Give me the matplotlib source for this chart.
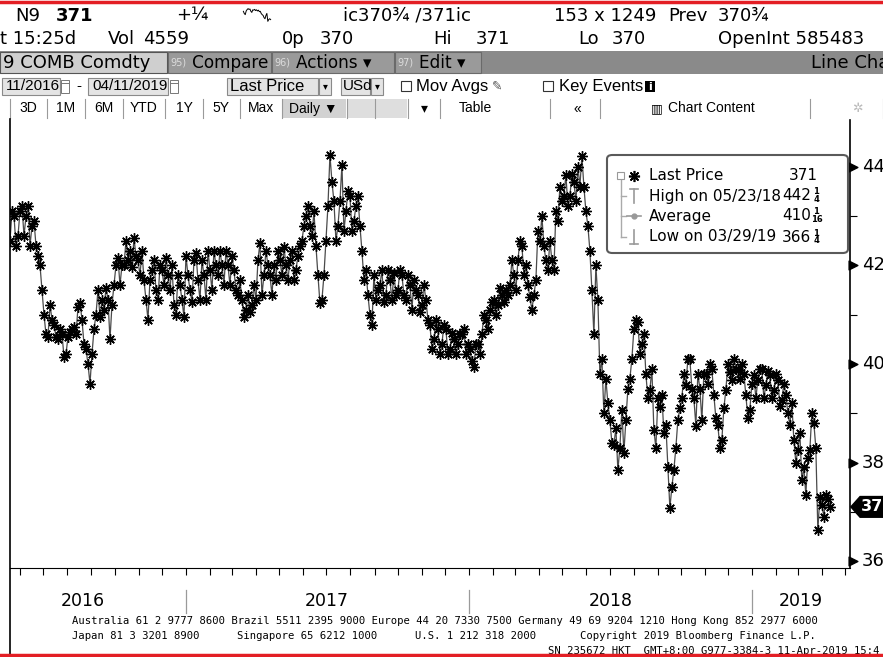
import matplotlib
matplotlib.use('Agg')
import matplotlib.pyplot as plt
from matplotlib.patches import Rectangle, FancyBboxPatch, Polygon
from matplotlib.lines import Line2D
import numpy as np
import pandas as pd

# ---------------- data ----------------
start_date = '2016-05-19'
end_date = '2019-04-11'
# readings on a regular grid of the chart ...
prices_a = [
    425, 430, 426, 432, 430, 424, 429, 422, 415, 406,
    412, 408, 405, 406, 402, 406.5, 407.5, 411.5, 409, 403,
    396, 407, 415, 413, 415.5, 405, 416, 421.5, 420, 425,
    423, 425.5, 421, 423, 413, 417, 421, 413, 419, 421.5,
    415, 412, 418, 413, 422, 415, 421, 417, 421, 413,
    419, 423, 418, 420, 423, 416, 419, 414, 413, 411,
    410.5, 416, 421, 414, 423, 418, 420, 423, 418, 420,
    421, 417, 422, 425, 430, 428, 431, 418, 413, 425,
    442.4, 433, 428, 440.4, 431, 434, 429, 434, 423, 419,
    410, 418, 415, 419, 414, 417, 418.5, 415, 418, 413,
    416, 417, 414, 412, 413, 408, 405, 407, 404, 407,
    403, 405, 404, 406, 402, 403, 399.4, 404, 406, 409,
    411, 413, 412, 414, 415, 416, 418, 421, 424, 420,
    413.5, 414, 427, 430, 421, 425, 419, 429, 433, 438.4,
    434, 437, 440, 442.25, 431, 423, 406, 413, 401, 397,
    388.6, 383.6, 378.5, 390.7, 388.6, 397, 407, 408.5, 404, 398,
    394.7, 386.6, 393, 393.7, 387.6, 370.75, 378.5, 388.6, 393, 395.7,
    401, 393, 398, 388.6, 398, 400, 393.7, 387.6, 384.6, 394.7,
    398.4, 401, 398.8, 400, 393.7, 390.7, 397.8, 396.8, 399, 395.7,
    397.8, 394.7, 396.8, 392.7, 393.7, 387.6, 384.6, 382.5, 376.4, 373.4,
    382.5, 388, 366.25, 371.4, 373.4, 371,
]
# ... and the readings half-way between them
prices_b = [
    431, 424, 431, 426, 432, 428, 424, 420,
    410, 405.5, 409, 405.5, 407,
    401.5, 405.5, 407, 406, 412.4, 404, 400,
    402, 410, 409.5, 411, 413, 412, 420,
    416, 420, 421, 419.7, 422, 418, 417,
    409, 419, 415, 420, 416, 418, 420, 410, 416, 409.5, 418,
    412.5, 422.5, 413, 418, 423,
    415, 420, 423, 416, 420, 422,
    415, 417, 409.5, 414, 412,
    413, 424.6, 418, 420, 414,
    417, 421, 423.8, 417, 423, 419, 424,
    428, 432, 426, 424, 412.4, 418, 432,
    437, 425, 433, 427, 435, 427, 432, 428,
    417, 414, 408, 413, 416, 412.5, 419, 413,
    414, 419, 414, 418, 411, 415, 410.5, 416, 409,
    403, 409, 402, 408, 402, 406.3, 402, 406, 407, 404, 400.5, 404,
    402, 410, 407, 412.5, 410, 415.5, 412.5, 414, 421, 415, 425, 418, 416, 411,
    417, 425, 424, 419, 421, 431, 436, 434, 432,
    438.5, 433, 436, 436, 428, 415,
    420, 398, 390, 392, 384, 387, 383,
    382, 395, 401, 409, 402, 406, 393, 399,
    383, 391.3, 386, 379, 375,
    383, 391, 398, 401, 395, 387.5, 395, 398,
    396, 399, 389, 383, 391, 400, 396.8,
    399, 397, 398, 389, 396, 393, 399,
    393, 398.5, 393, 398, 391.5, 396, 390, 392,
    380, 386, 379, 381, 390, 383, 373, 369, 372.5,
]
year_labels = ['2016', '2017', '2018', '2019']
year_label_dates = ['2016-08-21', '2017-07-02', '2018-07-02', '2019-03-05']
year_starts = ['2017-01-01', '2018-01-01', '2019-01-01']
y_major = [360, 380, 400, 420, 440]
y_minor = [370, 390, 410, 430]
last_price = 371

legend_labels = ['Last Price', 'High on 05/23/18', 'Average', 'Low on 03/29/19']
legend_values = ['371', '442', '410', '366']
legend_fracs = [('', ''), ('1', '4'), ('1', '16'), ('1', '4')]

# interleave the two sets of readings in time order
prices = []
for a, b in zip(prices_a, prices_b):
    prices += [a, b]
prices += prices_a[len(prices_b):]

# ---------------- figure ----------------
W, H = 883, 657
fig = plt.figure(figsize=(W / 100, H / 100), dpi=100)
fig.patch.set_facecolor('white')

HEAD = ['DejaVu Sans']
ARIAL = ['Liberation Sans', 'DejaVu Sans']
MONO = ['DejaVu Sans Mono']
LEG = ['DejaVu Sans']


def fx(x):
    return x / W


def fy(y):
    return 1 - y / H


def T(x, y, s, size=12, family=HEAD, ha='left', va='center', **kw):
    fig.text(fx(x), fy(y), s, fontsize=size, family=family, ha=ha, va=va, **kw)


def R(x0, y0, x1, y1, fc, ec='none', lw=0.8, z=1):
    fig.patches.append(Rectangle((fx(x0), fy(y1)), fx(x1 - x0), (y1 - y0) / H,
                                 transform=fig.transFigure, facecolor=fc,
                                 edgecolor=ec, linewidth=lw, zorder=z))


def L(x0, y0, x1, y1, c='black', lw=1, z=2):
    fig.lines.append(Line2D([fx(x0), fx(x1)], [fy(y0), fy(y1)], transform=fig.transFigure,
                            color=c, lw=lw, zorder=z))


# red frame lines
L(0, 2, W, 2, c='#e31e24', lw=2.5, z=10)
L(0, 655, W, 655, c='#e31e24', lw=2.5, z=10)

# header row 1
S1 = 13
T(15, 16, 'N9', S1)
T(56, 16, '371', S1, weight='bold')
T(176, 15, '+¼', S1)
T(343, 16, 'ic370¾ /371ic', S1)
T(554, 16, '153 x 1249', S1)
T(668, 16, 'Prev', S1)
T(718, 16, '370¾', S1)
# small sparkline icon from the price series
spark = fig.add_axes([fx(242), fy(22), fx(30), 14 / H])
spark.plot(prices_a[-30:], color='black', lw=0.7)
spark.axis('off')

# header row 2
for x, s in [(0, 't 15:25d'), (108, 'Vol'), (143, '4559'), (282, '0p'), (320, '370'),
             (433, 'Hi'), (476, '371'), (578, 'Lo'), (612, '370'), (718, 'OpenInt 585483')]:
    T(x, 39, s, S1)

# header row 3 (toolbar)
R(0, 51, W, 74, '#8a8a8a')
R(0, 52, 167, 73, '#cfcfcf', ec='#555555', lw=0.8, z=2)
T(3, 62.5, '9 COMB Comdty', S1)
for x0, x1, num, lab in [(168, 271, '95)', 'Compare'), (272, 394, '96)', 'Actions ▾'),
                         (395, 481, '97)', 'Edit ▾')]:
    R(x0, 52, x1, 73, '#9a9a9a', ec='#6a6a6a', lw=0.8, z=2)
    T(x0 + 2, 62.5, num, 7, color='#dcdcdc')
    T(x0 + 24, 62.5, lab, 12.2)
T(811, 62.5, 'Line Cha', S1)

# header row 4
R(0, 75, W, 97, 'white')
for x0, x1 in [(2, 60), (88, 168), (227, 318), (341, 370)]:
    R(x0, 78, x1, 95, '#e4e4e4', ec='#8a8a8a', lw=0.8, z=2)
for x0 in [61, 170]:
    R(x0, 80, x0 + 8, 93, 'white', ec='#777777', lw=0.7, z=2)
    L(x0, 83, x0 + 8, 83, c='#777777', lw=0.7, z=3)
for x0 in [319, 371]:
    R(x0, 78, x0 + 12, 95, '#e4e4e4', ec='#8a8a8a', lw=0.8, z=2)
    T(x0 + 6, 86.5, '▾', 7, family=LEG, ha='center')
T(6, 86.5, '11/2016', 11, family=ARIAL)
T(76, 86.5, '-', 11, family=ARIAL)
T(92, 86.5, '04/11/2019', 11, family=ARIAL)
T(230, 86.5, 'Last Price', 12, family=ARIAL)
T(343, 86.5, 'USd', 11, family=ARIAL)
R(401, 81, 411, 91, 'white', ec='#333333', lw=0.8, z=2)
T(416, 86.5, 'Mov Avgs', 12, family=ARIAL)
T(492, 86.5, '✎', 9, family=LEG, color='#555555')
R(543, 81, 553, 91, 'white', ec='#333333', lw=0.8, z=2)
T(559, 86.5, 'Key Events', 12, family=ARIAL)
R(645, 81, 655, 92, 'black', z=2)
T(650, 86.5, 'i', 8, weight='bold', family=LEG, color='white', ha='center')

# header row 5
R(0, 98, W, 119, 'white')
seps = [10, 47, 85, 123, 165, 203, 240, 282, 347, 375, 408, 440, 550, 600, 810, 883]
for s in seps:
    L(s, 99, s, 118, c='#9a9a9a', lw=0.8)
R(283, 99, 346, 118, '#d2d2d2', z=1)
R(348, 99, 407, 118, '#dedede', z=1)
for x, lab in [(28, '3D'), (66, '1M'), (104, '6M'), (144, 'YTD'), (184, '1Y'), (221, '5Y'), (261, 'Max'),
               (313, 'Daily ▼'), (424, '▾'), (475, 'Table'), (577, '«')]:
    T(x, 108.5, lab, 10, family=ARIAL, ha='center')
T(668, 108.5, 'Chart Content', 10, family=ARIAL)
T(651, 108.5, '▥', 9, family=LEG)
T(857, 108.5, '✲', 9, family=LEG, color='#bbbbbb', ha='center')

# left border
L(10, 119, 10, 657, c='black', lw=1.2)

# ---------------- main chart ----------------
ax = fig.add_axes([fx(10), fy(568), fx(840), 448 / H])
dates = pd.date_range(start_date, end_date, periods=len(prices))
ax.plot(dates, prices, color='#4a4a4a', lw=0.9, marker=(8, 2, 0), ms=7.5,
        mec='black', mfc='black', mew=1.0, zorder=3)
ax.set_xlim(pd.Timestamp('2016-05-19'), pd.Timestamp('2019-05-07'))
ax.set_ylim(358.6, 449.5)
for s in ['top', 'left']:
    ax.spines[s].set_visible(False)
ax.spines['right'].set_linewidth(1.2)
ax.spines['bottom'].set_linewidth(0.8)

# x ticks: monthly
months = pd.date_range('2016-06-01', '2019-05-01', freq='MS')
ax.set_xticks(months)
ax.set_xticklabels([])
ax.tick_params(axis='x', direction='out', length=5, width=0.8, color='black')

# y axis on right
ax.yaxis.tick_right()
ax.set_yticks(y_minor)
ax.set_yticklabels([])
ax.tick_params(axis='y', direction='out', length=5, width=0.8, right=True, left=False)
ytr = ax.get_yaxis_transform()
ax.scatter([1.0035] * len(y_major), y_major, marker='>', s=40, color='black',
           transform=ytr, clip_on=False, zorder=5)
for v in y_major:
    ax.text(1.0145, v, str(v), transform=ytr, fontsize=13, family=LEG, va='center',
            ha='left', clip_on=False)
# last price tag
tag = Polygon([[1.001, last_price], [1.012, last_price + 2.1], [1.06, last_price + 2.1],
               [1.06, last_price - 2.1], [1.012, last_price - 2.1]], closed=True,
              transform=ytr, facecolor='black', edgecolor='black', clip_on=False, zorder=6)
ax.add_patch(tag)
ax.text(1.0135, last_price, str(last_price), transform=ytr, fontsize=11.5, family=LEG,
        color='white', weight='bold', va='center', ha='left', clip_on=False, zorder=7)

# year labels and separators
xtr = ax.get_xaxis_transform()
for d in year_starts:
    ax.plot([pd.Timestamp(d)] * 2, [-0.05, -0.1], color='#9a9a9a', lw=0.9,
            transform=xtr, clip_on=False)
for lab, d in zip(year_labels, year_label_dates):
    ax.text(pd.Timestamp(d), -0.073, lab, transform=xtr, fontsize=12.5, family=HEAD,
            ha='center', va='center', clip_on=False)

# ---------------- legend box ----------------
box = FancyBboxPatch((fx(607), fy(253)), fx(241), 98 / H, boxstyle='round,pad=0,rounding_size=0.006',
                     transform=fig.transFigure, facecolor='white', edgecolor='#5a5a5a', lw=1.5, zorder=8)
fig.patches.append(box)
rows_y = [176, 196, 216, 237]
R(617, 172, 624, 179, 'white', ec='#999999', lw=0.8, z=9)
L(618.5, 175.5, 622.5, 175.5, c='#999999', lw=0.7, z=9)
L(620.5, 180, 620.5, 237, c='#aaaaaa', lw=1.0, z=9)
for yy in rows_y[1:]:
    L(620.5, yy, 626, yy, c='#aaaaaa', lw=1.0, z=9)
# icons
fig.lines.append(Line2D([fx(634)], [fy(176)], marker=(8, 2, 0), ms=8, mew=1.2, color='black',
                        transform=fig.transFigure, zorder=9))
L(634, 189, 634, 203, c='#999999', lw=1.2, z=9)
L(630, 189, 638, 189, c='#999999', lw=1.2, z=9)
L(627, 216, 641, 216, c='#999999', lw=1.2, z=9)
fig.lines.append(Line2D([fx(634)], [fy(216)], marker='o', ms=3.5, color='#999999',
                        transform=fig.transFigure, zorder=9))
L(634, 230, 634, 244, c='#999999', lw=1.2, z=9)
L(630, 244, 638, 244, c='#999999', lw=1.2, z=9)
for yy, lab, val, (num, den) in zip(rows_y, legend_labels, legend_values, legend_fracs):
    fig.text(fx(649), fy(yy), lab, fontsize=11, family=LEG, va='center', ha='left', zorder=10)
    if not num:
        fig.text(fx(818), fy(yy), val, fontsize=11, family=LEG, va='center', ha='right', zorder=10)
    else:
        fig.text(fx(811), fy(yy), val, fontsize=11, family=LEG, va='center', ha='right', zorder=10)
        fig.text(fx(816), fy(yy - 4), num, fontsize=6, family=LEG, va='center', ha='center',
                 zorder=10, weight='bold')
        fig.text(fx(817), fy(yy + 3.5), den, fontsize=6, family=LEG, va='center',
                 ha='center', zorder=10, weight='bold')

# ---------------- footer ----------------
T(72, 621, 'Australia 61 2 9777 8600 Brazil 5511 2395 9000 Europe 44 20 7330 7500 '
           'Germany 49 69 9204 1210 Hong Kong 852 2977 6000', 7.6, family=MONO)
T(72, 636, 'Japan 81 3 3201 8900', 7.6, family=MONO)
T(237, 636, 'Singapore 65 6212 1000', 7.6, family=MONO)
T(415, 636, 'U.S. 1 212 318 2000', 7.6, family=MONO)
T(580, 636, 'Copyright 2019 Bloomberg Finance L.P.', 7.6, family=MONO)
T(548, 651, 'SN 235672 HKT  GMT+8:00 G977-3384-3 11-Apr-2019 15:4', 7.6, family=MONO)

fig.savefig('out.png', dpi=100)
